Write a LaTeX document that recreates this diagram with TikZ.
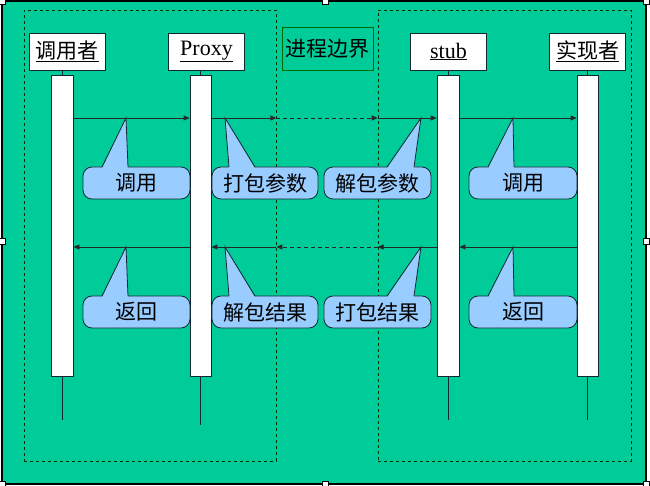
\documentclass[tikz,border=0pt]{standalone}
\usepackage{fontspec}
\setmainfont{Liberation Serif}
\newfontfamily\cjk{Noto Sans CJK SC}
\usetikzlibrary{positioning, arrows.meta, calc}

\definecolor{slidegreen}{RGB}{0,204,153}
\definecolor{noteblue}{RGB}{153,204,255}
\definecolor{linedark}{RGB}{20,40,50}

\begin{document}
\begin{tikzpicture}[
    x=1pt, y=-1pt,
    % boxes
    headbox/.style={draw=linedark, fill=white, line width=0.8pt, minimum width=76pt,
        minimum height=37pt, inner sep=0pt, font=\cjk\fontsize{21}{24}\selectfont},
    latinhead/.style={headbox, font=\fontsize{22}{24}\selectfont},
    borderbox/.style={draw=black!60!green, line width=0.8pt, minimum width=91pt,
        minimum height=43pt, inner sep=0pt, font=\cjk\fontsize{21}{24}\selectfont},
    zonebox/.style={draw=black!80!green, line width=0.7pt, dash pattern=on 3pt off 3pt,
        minimum height=451pt, inner sep=0pt},
    lifebar/.style={draw=linedark, fill=white, line width=0.8pt, minimum width=21pt,
        minimum height=301pt, inner sep=0pt},
    stem/.style={draw=linedark, line width=0.8pt},
    % callouts
    callbox/.style={draw=linedark, fill=noteblue, line width=0.8pt, rounded corners=9pt,
        minimum width=107pt, minimum height=32pt, inner sep=0pt,
        font=\cjk\fontsize{21}{24}\selectfont},
    callptr/.style={fill=noteblue},
    callptrline/.style={draw=linedark, line width=0.8pt},
    % messages
    msg/.style={-{Triangle[length=6pt, width=5pt]}, line width=0.8pt, black!85},
    remotemsg/.style={msg, dash pattern=on 4pt off 3pt},
    handle/.style={draw=black, fill=white, line width=0.5pt, minimum size=6pt, inner sep=0pt},
]

% ============================================================
% background and frame
% ============================================================
\fill[white] (0,0) rectangle (650,486);
\useasboundingbox (0,0) rectangle (650,486);
\draw[fill=slidegreen, line width=1.5pt] (2,1) rectangle (646,484);

% --- dashed process zones ---
\node[zonebox, minimum width=252pt] (leftzone) at (150,235.5) {};
\node[zonebox, minimum width=253pt] (rightzone) at (504.5,235.5) {};

% --- header boxes ---
\node[headbox] (caller) at (67,51.5) {\underline{调用者}};
\node[latinhead] (proxy) at (206.5,51.5) {\underline{Proxy}};
\node[borderbox] (bound) at (327.5,48.5) {\raisebox{-2pt}{进程边界}};
\node[latinhead] (stub) at (448.5,51.5) {\underline{stub}};
\node[headbox] (impl) at (587.5,51.5) {\underline{实现者}};

% --- lifeline ends ---
\coordinate (callerend) at (62,420);
\coordinate (proxyend) at (200.5,425);
\coordinate (stubend) at (448,420);
\coordinate (implend) at (587.5,420);

% --- message rows ---
\coordinate (callrow) at (0,118);
\coordinate (retrow) at (0,247);

% ============================================================
% callouts (drawn under the bars)
% ============================================================
\node[callbox] (callA) at (136.5,183) {调用};
\node[callbox, minimum width=106pt] (packA) at (265,183) {打包参数};
\node[callbox] (unpackA) at (377.5,183) {解包参数};
\node[callbox, minimum width=108pt] (callB) at (523,183) {调用};

\node[callbox] (retA) at (136.5,312) {返回};
\node[callbox, minimum width=106pt] (unpackR) at (265,312) {解包结果};
\node[callbox] (packR) at (377.5,312) {打包结果};
\node[callbox, minimum width=108pt] (retB) at (523,312) {返回};

% pointers, top row
\fill[callptr] (102,168.5) -- (126,118) -- (128,168.5) -- cycle;
\draw[callptrline] (102,167) -- (126,118) -- (128,167);
\fill[callptr] (229,168.5) -- (225,118) -- (255,168.5) -- cycle;
\draw[callptrline] (229,167) -- (225,118) -- (255,167);
\fill[callptr] (387,168.5) -- (421,118) -- (414,168.5) -- cycle;
\draw[callptrline] (387,167) -- (421,118) -- (414,167);
\fill[callptr] (488,168.5) -- (513,118) -- (514,168.5) -- cycle;
\draw[callptrline] (488,167) -- (513,118) -- (514,167);

% pointers, bottom row
\fill[callptr] (102,297.5) -- (126,247) -- (128,297.5) -- cycle;
\draw[callptrline] (102,296) -- (126,247) -- (128,296);
\fill[callptr] (229,297.5) -- (225,247) -- (255,297.5) -- cycle;
\draw[callptrline] (229,296) -- (225,247) -- (255,296);
\fill[callptr] (387,297.5) -- (421,247) -- (414,297.5) -- cycle;
\draw[callptrline] (387,296) -- (421,247) -- (414,296);
\fill[callptr] (488,297.5) -- (513,247) -- (514,297.5) -- cycle;
\draw[callptrline] (488,296) -- (513,247) -- (514,296);

% ============================================================
% lifelines and activation bars
% ============================================================
\node[lifebar, minimum width=22pt] (callerbar) at (62,225.5) {};
\node[lifebar] (proxybar) at (200.5,225.5) {};
\node[lifebar, minimum width=22pt] (stubbar) at (448,225.5) {};
\node[lifebar] (implbar) at (587.5,225.5) {};

\draw[stem] (callerbar.north) -- (callerbar.north |- caller.south);
\draw[stem] (proxybar.north) -- (proxybar.north |- proxy.south);
\draw[stem] (stubbar.north) -- (stubbar.north |- stub.south);
\draw[stem] (implbar.north) -- (implbar.north |- impl.south);

\draw[stem] (callerbar.south) -- (callerend);
\draw[stem] (proxybar.south) -- (proxyend);
\draw[stem] (stubbar.south) -- (stubend);
\draw[stem] (implbar.south) -- (implend);

% ============================================================
% messages
% ============================================================
% call
\draw[msg] (callerbar.east |- callrow) -- (proxybar.west |- callrow);
\draw[msg] (proxybar.east |- callrow) -- (leftzone.east |- callrow);
\draw[remotemsg] (leftzone.east |- callrow) -- (rightzone.west |- callrow);
\draw[msg] (rightzone.west |- callrow) -- (stubbar.west |- callrow);
\draw[msg] (stubbar.east |- callrow) -- (implbar.west |- callrow);

% return
\draw[msg] (implbar.west |- retrow) -- (stubbar.east |- retrow);
\draw[msg] (stubbar.west |- retrow) -- (rightzone.west |- retrow);
\draw[remotemsg] (rightzone.west |- retrow) -- (leftzone.east |- retrow);
\draw[msg] (leftzone.east |- retrow) -- (proxybar.east |- retrow);
\draw[msg] (proxybar.west |- retrow) -- (callerbar.east |- retrow);

% ============================================================
% selection handles
% ============================================================
\node[handle] (hnw) at (2,1) {};
\node[handle] (hn) at (325,1) {};
\node[handle] (hne) at (646,1) {};
\node[handle] (hw) at (2,241) {};
\node[handle] (he) at (646,241) {};
\node[handle] (hsw) at (2,484) {};
\node[handle] (hs) at (325,484) {};
\node[handle] (hse) at (646,484) {};

\end{tikzpicture}
\end{document}
